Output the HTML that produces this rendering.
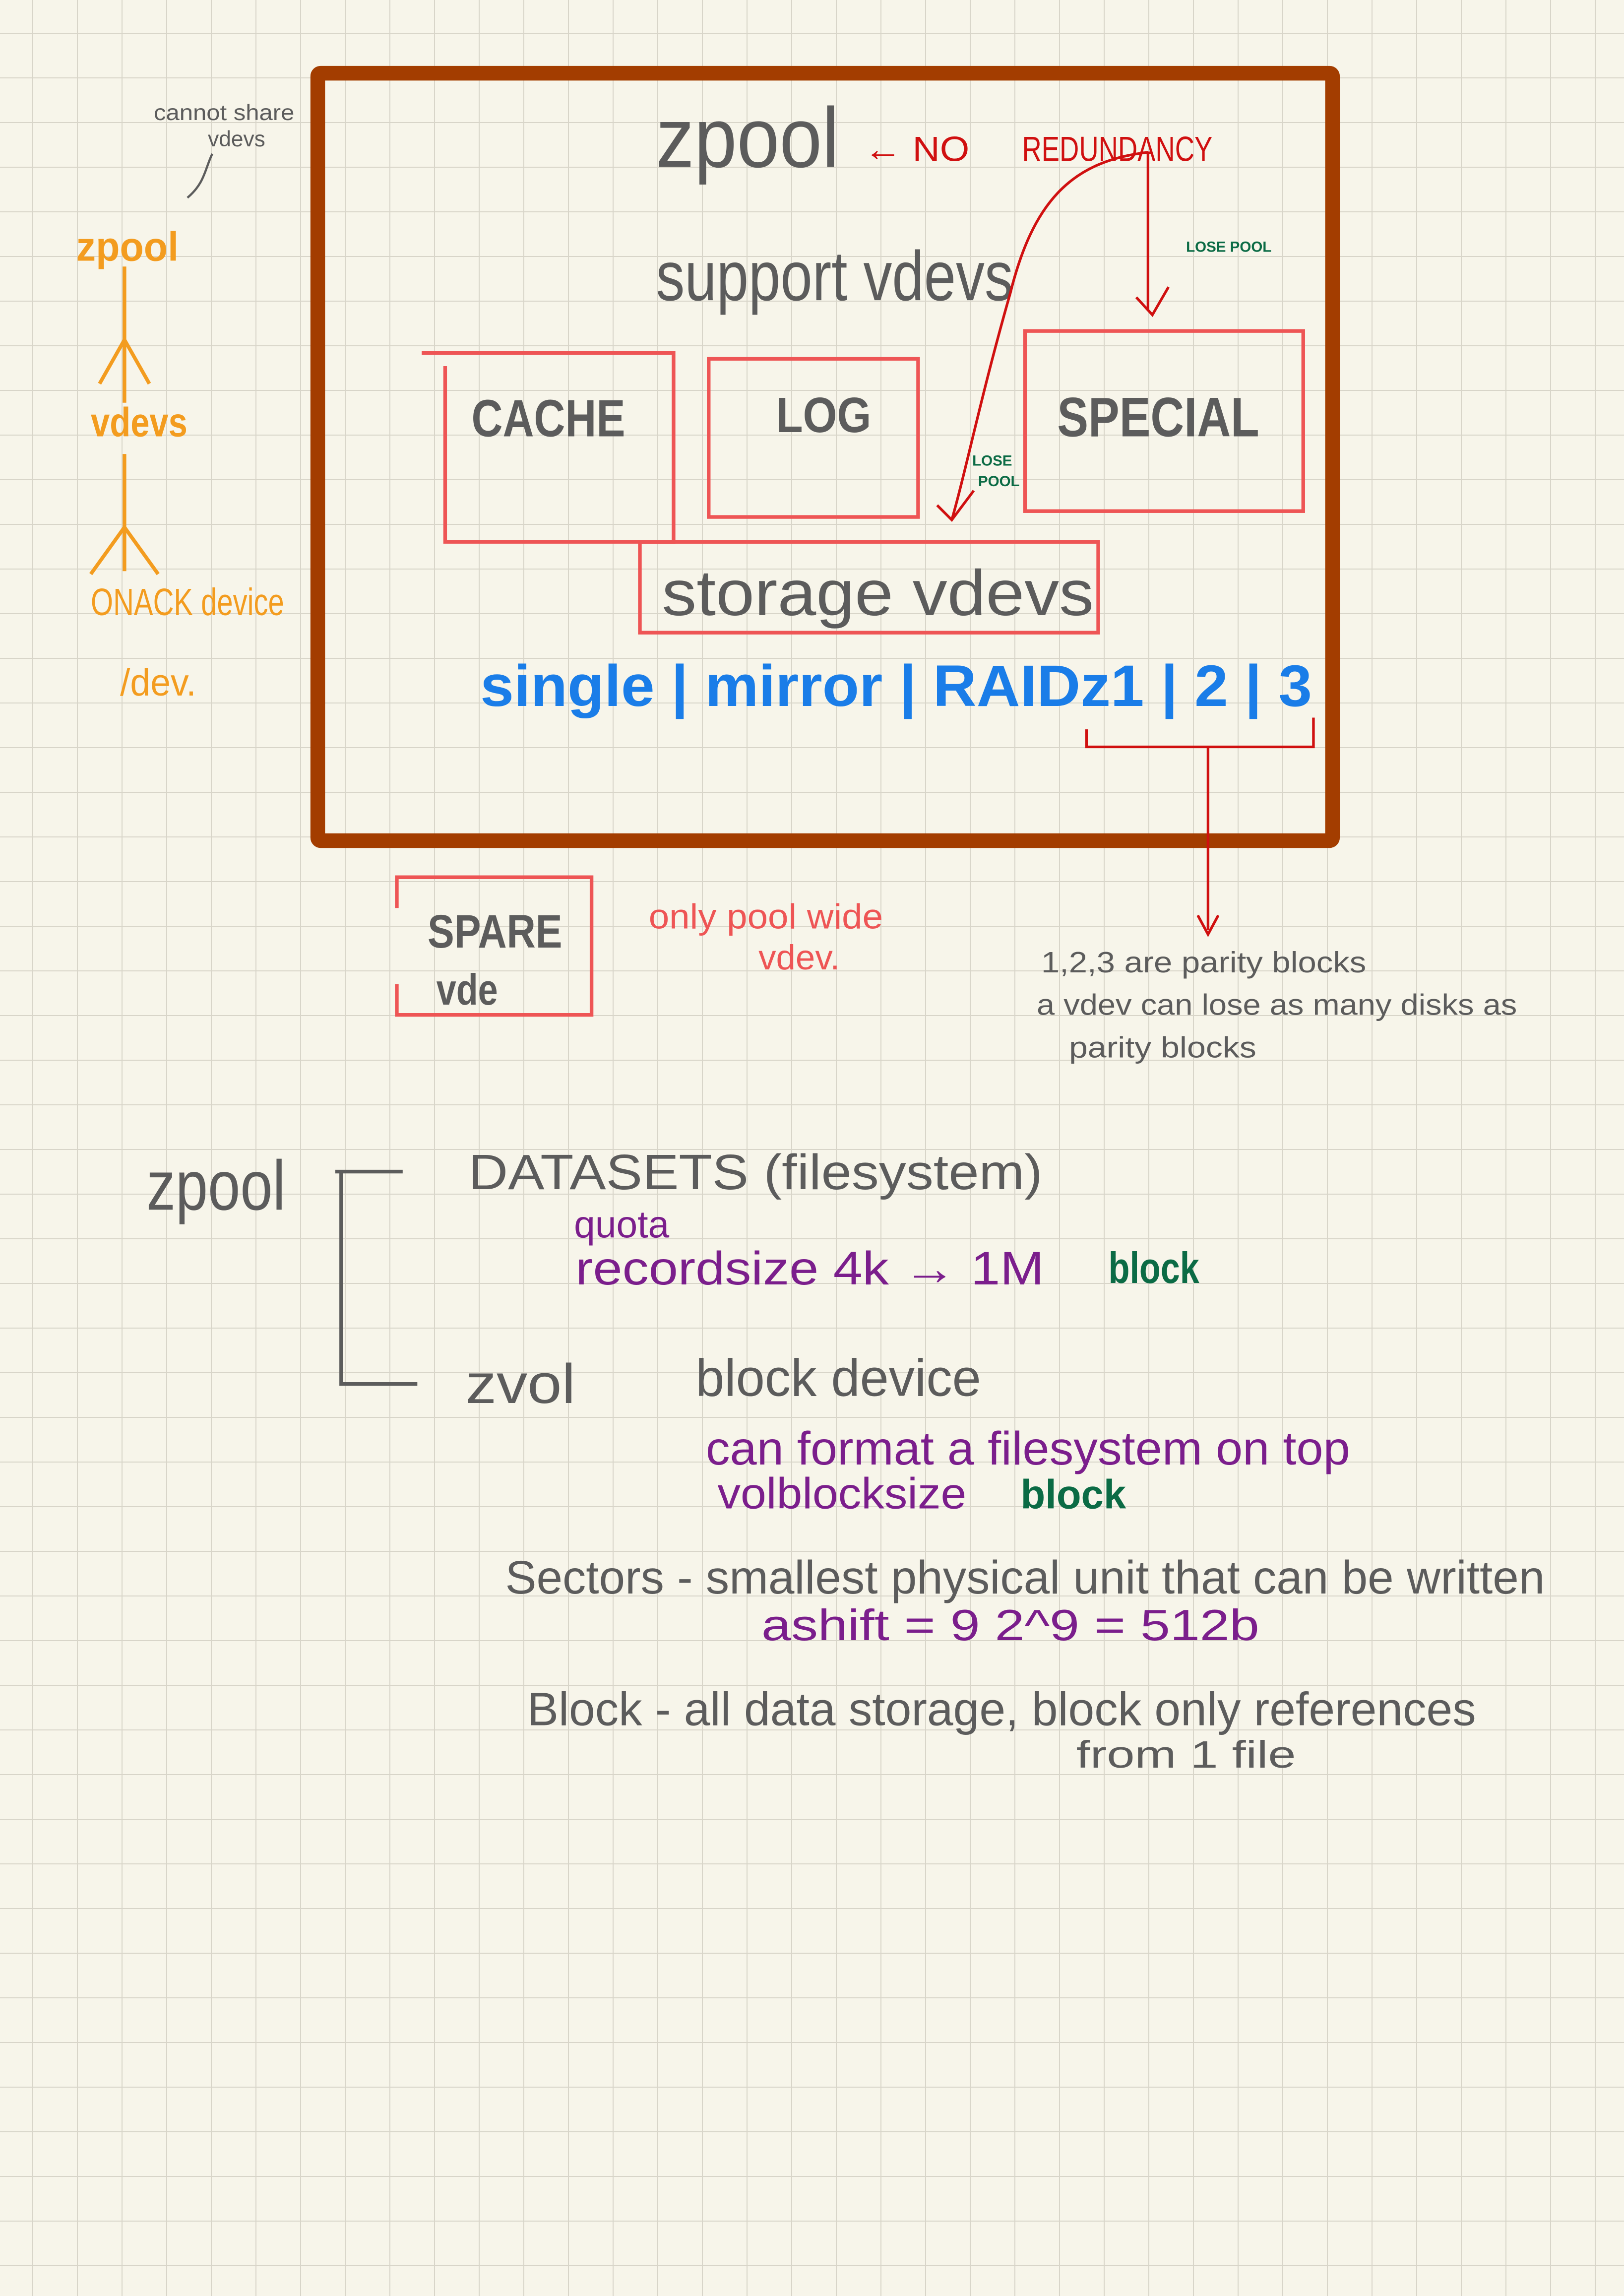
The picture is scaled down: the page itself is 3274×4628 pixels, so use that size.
<!DOCTYPE html>
<html><head><meta charset="utf-8"><style>
html,body{margin:0;padding:0;background:#f7f5ea}
svg{display:block}
text{font-family:"Liberation Sans",sans-serif}
</style></head><body>
<svg width="3274" height="4628" viewBox="0 0 3274 4628" xmlns="http://www.w3.org/2000/svg">
<defs>
<pattern id="g" x="65" y="66" width="90" height="90" patternUnits="userSpaceOnUse">
<path d="M0 0H90M0 0V90" stroke="#d8d5c9" stroke-width="4" fill="none"/>
</pattern>
<marker id="ah" markerWidth="10" markerHeight="10" refX="5" refY="5" orient="auto" markerUnits="userSpaceOnUse"></marker>
</defs>
<rect width="3274" height="4628" fill="#f7f5ea"/>
<rect width="3274" height="4628" fill="url(#g)"/>
<g transform="scale(2.952)">
<!-- main frame -->
<rect x="217" y="50" width="693" height="524" fill="none" stroke="#a33d00" stroke-width="10" rx="2"/>
<g fill="#5c5c5c" font-weight="bold">
<text x="448" y="114" font-size="58" textLength="125" lengthAdjust="spacingAndGlyphs" font-weight="normal">zpool</text>
<text x="448" y="205" font-size="48" textLength="244" lengthAdjust="spacingAndGlyphs" font-weight="normal">support vdevs</text>
<text x="322" y="298" font-size="36" textLength="105" lengthAdjust="spacingAndGlyphs">CACHE</text>
<text x="530" y="295" font-size="34" textLength="65" lengthAdjust="spacingAndGlyphs">LOG</text>
<text x="722" y="298" font-size="38" textLength="138" lengthAdjust="spacingAndGlyphs">SPECIAL</text>
<text x="452" y="420" font-size="44" textLength="295" lengthAdjust="spacingAndGlyphs" font-weight="normal">storage vdevs</text>
<text x="292" y="647" font-size="32" textLength="92" lengthAdjust="spacingAndGlyphs">SPARE</text>
<text x="298" y="686" font-size="30" textLength="42" lengthAdjust="spacingAndGlyphs">vde</text>
</g>
<!-- red boxes -->
<g fill="none" stroke="#ee5555" stroke-width="2.5">
<path d="M288 241H460V370H304V250"/>
<rect x="484" y="245" width="143" height="108"/>
<rect x="700" y="226" width="190" height="123"/>
<rect x="437" y="370" width="313" height="62"/>
<path d="M271 620V599H404V693H271V672"/>
</g>
<g fill="#d01010" font-size="24">
<text x="590" y="110" textLength="72" lengthAdjust="spacingAndGlyphs">← NO</text>
<text x="698" y="110" textLength="130" lengthAdjust="spacingAndGlyphs">REDUNDANCY</text>
</g>
<g fill="none" stroke="#d01010" stroke-width="1.8">
<path d="M784 104C730 110 705 140 690 200C670 270 660 320 650 355"/>
<path d="M640 345L650 355L665 335"/>
<path d="M784 104V212"/>
<path d="M776 203L787 215L798 196"/>
<path d="M742 498V510H897V490M825 510V635"/>
<path d="M818 625L825 638L832 625"/>
</g>
<g fill="#0b6b45" font-size="10" font-weight="bold">
<text x="810" y="172">LOSE POOL</text>
<text x="664" y="318">LOSE</text>
<text x="668" y="332">POOL</text>
</g>
<text x="328" y="482" font-size="40" fill="#1a7de8" font-weight="bold" textLength="568" lengthAdjust="spacingAndGlyphs">single | mirror | RAIDz1 | 2 | 3</text>
<!-- left orange -->
<g fill="#f39c1f">
<text x="52" y="178" font-size="28" font-weight="bold" textLength="70" lengthAdjust="spacingAndGlyphs">zpool</text>
<text x="62" y="298" font-size="28" font-weight="bold" textLength="66" lengthAdjust="spacingAndGlyphs">vdevs</text>
<text x="62" y="420" font-size="26" textLength="132" lengthAdjust="spacingAndGlyphs">ONACK device</text>
<text x="82" y="475" font-size="26" textLength="52" lengthAdjust="spacingAndGlyphs">/dev.</text>
</g>
<g fill="none" stroke="#f39c1f" stroke-width="2.5">
<path d="M85 182V275M68 262L85 232L102 262"/>
<path d="M85 310V390M62 392L85 360L108 392"/>
</g>
<g fill="#5c5c5c" font-size="15">
<text x="105" y="82" textLength="96" lengthAdjust="spacingAndGlyphs">cannot share</text>
<text x="142" y="100">vdevs</text>
</g>
<path d="M145 105C140 115 140 125 128 135" stroke="#5c5c5c" stroke-width="1.5" fill="none"/>
<g fill="#ee5555" font-size="24">
<text x="443" y="634" textLength="160" lengthAdjust="spacingAndGlyphs">only pool wide</text>
<text x="518" y="662">vdev.</text>
</g>
<g fill="#5c5c5c" font-size="20">
<text x="711" y="664" textLength="222" lengthAdjust="spacingAndGlyphs">1,2,3 are parity blocks</text>
<text x="708" y="693" textLength="328" lengthAdjust="spacingAndGlyphs">a vdev can lose as many disks as</text>
<text x="730" y="722" textLength="128" lengthAdjust="spacingAndGlyphs">parity blocks</text>
</g>
<!-- lower -->
<g fill="#5c5c5c">
<text x="100" y="826" font-size="48" textLength="95" lengthAdjust="spacingAndGlyphs">zpool</text>
<text x="320" y="812" font-size="34" textLength="392" lengthAdjust="spacingAndGlyphs">DATASETS (filesystem)</text>
<text x="318" y="958" font-size="38" textLength="75" lengthAdjust="spacingAndGlyphs">zvol</text>
<text x="475" y="953" font-size="36" textLength="195" lengthAdjust="spacingAndGlyphs">block device</text>
<text x="345" y="1088" font-size="32" textLength="710" lengthAdjust="spacingAndGlyphs">Sectors - smallest physical unit that can be written</text>
<text x="360" y="1178" font-size="32" textLength="648" lengthAdjust="spacingAndGlyphs">Block - all data storage, block only references</text>
<text x="735" y="1207" font-size="26" textLength="150" lengthAdjust="spacingAndGlyphs">from 1 file</text>
</g>
<path d="M229 800H275M233 800V945H285" stroke="#5c5c5c" stroke-width="2.5" fill="none"/>
<g fill="#7b1e8c">
<text x="392" y="845" font-size="26">quota</text>
<text x="393" y="877" font-size="32" textLength="320" lengthAdjust="spacingAndGlyphs">recordsize  4k → 1M</text>
<text x="482" y="1000" font-size="32" textLength="440" lengthAdjust="spacingAndGlyphs">can format a filesystem on top</text>
<text x="490" y="1030" font-size="30" textLength="170" lengthAdjust="spacingAndGlyphs">volblocksize</text>
<text x="520" y="1120" font-size="30" textLength="340" lengthAdjust="spacingAndGlyphs">ashift = 9   2^9 = 512b</text>
</g>
<g fill="#0b6b45" font-weight="bold">
<text x="757" y="876" font-size="30" textLength="62" lengthAdjust="spacingAndGlyphs">block</text>
<text x="697" y="1030" font-size="28" textLength="72" lengthAdjust="spacingAndGlyphs">block</text>
</g>
</g>
</svg>
</body></html>
